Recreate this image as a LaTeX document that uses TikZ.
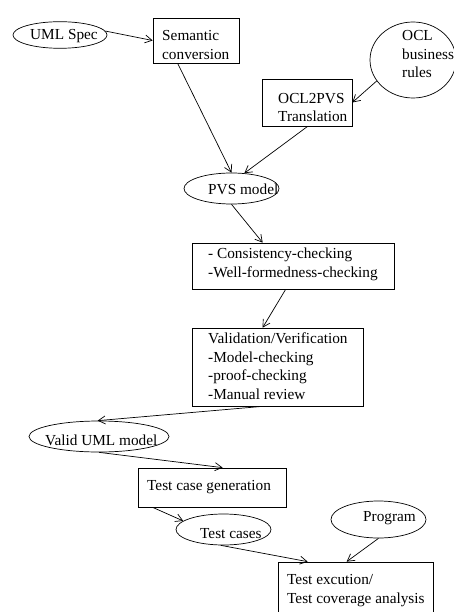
\documentclass[tikz,border=0pt]{standalone}
\usepackage{fontspec}
\setmainfont{Liberation Serif}
\usetikzlibrary{arrows.meta,shapes.geometric}
\begin{document}
\begin{tikzpicture}[x=1pt,y=-1pt,
  every node/.style={font=\fontsize{15.3}{18.5}\selectfont},
  boxnode/.style={draw, rectangle, inner sep=0pt, line width=0.7pt},
  ellnode/.style={draw, ellipse, inner sep=0pt, line width=0.7pt},
  lbl/.style={anchor=base west, inner sep=0pt, align=left},
  conn/.style={-{Straight Barb[length=7pt,width=8pt]}, line width=0.7pt}]
\useasboundingbox (0,0) rectangle (454,612);
% boxes
\node[boxnode, minimum width=86pt, minimum height=45pt] (sem) at (196,40.5) {};
\node[boxnode, minimum width=90pt, minimum height=47pt] (ocl2pvs) at (307,102.5) {};
\node[boxnode, minimum width=202pt, minimum height=46pt] (cons) at (293,266) {};
\node[boxnode, minimum width=171pt, minimum height=78pt] (val) at (277.5,367) {};
\node[boxnode, minimum width=148pt, minimum height=39pt] (tcg) at (212,487.5) {};
\node[boxnode, minimum width=155pt, minimum height=68pt] (tex) at (355.5,596) {};
% ellipses
\node[ellnode, minimum width=94pt, minimum height=26.6pt] (uml) at (60,35) {};
\node[ellnode, minimum width=86pt, minimum height=76pt] (ocl) at (413,60) {};
\node[ellnode, minimum width=95pt, minimum height=31pt] (pvs) at (231.5,188.5) {};
\node[ellnode, minimum width=140pt, minimum height=31pt] (valid) at (99,436.5) {};
\node[ellnode, minimum width=95pt, minimum height=31pt] (tc) at (223.5,529.5) {};
\node[ellnode, minimum width=95pt, minimum height=37pt] (prog) at (378.5,519.5) {};
% texts (anchored at the baseline of the last line)
\node[lbl] (umlt) at (30,40) {UML Spec};
\node[lbl] (semt) at (162,59.3) {Semantic\\conversion};
\node[lbl] (oclt) at (402,78) {OCL\\business\\rules};
\node[lbl] (ocl2pvst) at (278,121.7) {OCL2PVS\\Translation};
\node[lbl] (pvst) at (208,195) {PVS model};
\node[lbl] (const) at (208,277.3) {- Consistency-checking\\-Well-formedness-checking};
\node[lbl] (valt) at (208,399.3) {Validation/Verification\\-Model-checking\\-proof-checking\\-Manual review};
\node[lbl] (validt) at (45,445) {Valid UML model};
\node[lbl] (tcgt) at (147,490.7) {Test case generation};
\node[lbl] (tct) at (200,538.3) {Test cases};
\node[lbl] (progt) at (363,521.7) {Program};
\node[lbl] (text) at (287,603) {Test excution/\\Test coverage analysis};
% connectors
\draw[conn] (uml.5) -- (sem.west);
\draw[conn] ([xshift=25pt]sem.south west) -- (pvs.north);
\draw[conn] (ocl.210) -- (ocl2pvs.east);
\draw[conn] ([xshift=46pt]ocl2pvs.south west) -- (pvs.50);
\draw[conn] (pvs.south) -- ([xshift=71pt]cons.north west);
\draw[conn] ([xshift=94pt]cons.south west) -- ([xshift=71pt]val.north west);
\draw[conn] ([xshift=71pt]val.south west) -- (valid.95);
\draw[conn] (valid.south) -- ([xshift=85pt]tcg.north west);
\draw[conn] ([xshift=15pt]tcg.south west) -- (tc.168);
\draw[conn] (tc.260) -- ([xshift=30pt]tex.north west);
\draw[conn] (prog.south) -- ([xshift=69pt]tex.north west);
\end{tikzpicture}
\end{document}
